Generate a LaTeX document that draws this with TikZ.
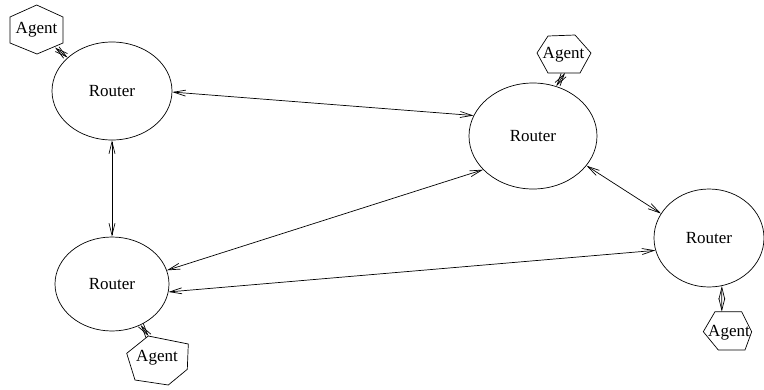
\documentclass[tikz,border=0pt]{standalone}
\usepackage{fontspec}
\setmainfont{Liberation Serif}
\usetikzlibrary{shapes.geometric,arrows.meta}
\begin{document}
\begin{tikzpicture}[x=1pt,y=-1pt,
  router/.style={ellipse,draw,line width=0.7pt,inner sep=0pt,font=\fontsize{17}{20}\selectfont},
  agentlabel/.style={inner sep=0pt,font=\fontsize{17}{20}\selectfont},
  hexline/.style={line width=0.7pt,line join=miter},
  link/.style={line width=0.7pt,{Straight Barb[length=12pt,width=6pt]}-{Straight Barb[length=12pt,width=6pt]}}]
\useasboundingbox (0,0) rectangle (764,389);

% routers
\node[router,minimum width=120pt,minimum height=98pt] (r1) at (112,91) {Router};
\node[router,minimum width=128pt,minimum height=106pt] (r2) at (533,136) {Router};
\node[router,minimum width=110pt,minimum height=98pt] (r3) at (709,238) {Router};
\node[router,minimum width=114pt,minimum height=94pt] (r4) at (112,284) {Router};

% agents
\node[agentlabel] (a1) at (36.5,30) {Agent};
\draw[hexline] (36.7,5) -- (63,17) -- (63,43) -- (37,54) -- (10,43) -- (10,17) -- cycle;
\node[agentlabel] (a2) at (563.5,55) {Agent};
\draw[hexline] (548,36) -- (575,35) -- (591,53) -- (580,73) -- (548,73) -- (537,53) -- cycle;
\node[agentlabel] (a3) at (157,358) {Agent};
\draw[hexline] (148.3,336) -- (188.3,344) -- (187.3,369.3) -- (168.3,385) -- (135,380) -- (126.7,353.3) -- cycle;
\node[agentlabel] (a4) at (729,333) {Agent};
\draw[hexline] (715,311.7) -- (741.7,311.7) -- (751.7,331.7) -- (745,350) -- (718.3,350) -- (703.3,331.7) -- cycle;

% agent contact points
\coordinate (a1p) at (55,47.5);
\coordinate (a2p) at (565,73);
\coordinate (a3p) at (148.5,336);
\coordinate (a4p) at (721.8,311.7);

% router links
\draw[link] (r1.-1) -- (r2.161);
\draw[link] (r1.south) -- (r4.north);
\draw[link] (r4.14) -- (r2.214);
\draw[link] (r2.331) -- (r3.153);
\draw[link] (r4.352) -- (r3.193);

% agent links
\draw[link] (a1p) -- (r1.143);
\draw[link] (a2p) -- (r2.65);
\draw[link] (a3p) -- (r4.-55);
\draw[link] (a4p) -- (r3.-75);
\end{tikzpicture}
\end{document}
